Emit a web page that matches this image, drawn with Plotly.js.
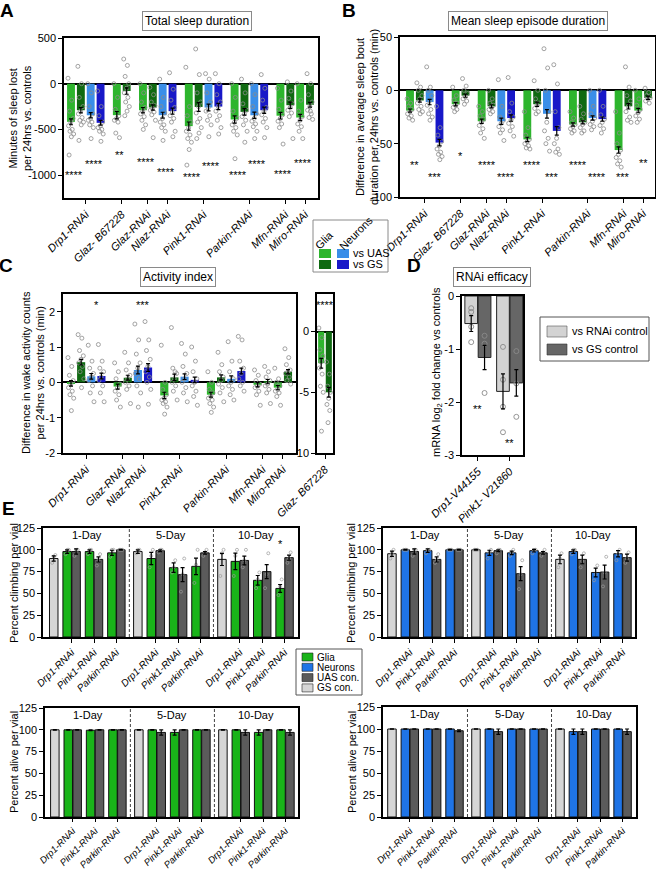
<!DOCTYPE html>
<html><head><meta charset="utf-8">
<script src="https://cdn.plot.ly/plotly-3.0.1.min.js"></script>
<style>html,body{margin:0;padding:0;background:#fff}#chart{width:656px;height:869px}</style>
</head><body><div id="chart"></div>
<script>
// ================= DATA =================
// gU = glia vs UAS, gG = glia vs GS, nU = neurons vs UAS, nG = neurons vs GS
const sleepGroups = ['Drp1-RNAi','Glaz- B67228','Glaz-RNAi','Nlaz-RNAi','Pink1-RNAi','Parkin-RNAi','Mfn-RNAi','Miro-RNAi'];
const sleepBars = [['gU','gG','nU','nG'],['gU','gG'],['gU','gG'],['nU','nG'],['gU','gG','nU','nG'],['gU','gG','nU','nG'],['gU','gG'],['gU','gG']];
const sleepJoinPrev = [false,false,false,true,false,false,false,true];

// A: total sleep (min lost per 24h)
const totalSleepMean = [[-417,-290,-345,-428],[-344,-80],[-290,-260],[-344,-300],[-464,-254,-260,-250],[-391,-308,-345,-290],[-350,-235],[-370,-230]];
const totalSleepSEM = [[32,30,28,26],[40,35],[30,28],[32,34],[45,48,36,34],[40,36,34,34],[36,34],[34,26]];
const totalSleepPts = [
 [[60,-180,-300,-380,-420,-460,-500,-520,-550,-580,-780],[190,0,-150,-250,-300,-330,-370,-400,-420,-450,-620],[0,-100,-250,-330,-380,-400,-420,-450,-480,-600],[-80,-250,-350,-420,-460,-480,-500,-520,-550,-630]],
 [[0,-150,-280,-350,-380,-400,-420,-540,-590],[270,200,80,0,-50,-100,-150,-200,-250,-300,-350]],
 [[0,-100,-200,-260,-300,-330,-360,-400,-450,-500],[-40,-120,-200,-240,-270,-290,-310,-340,-400,-590]],
 [[50,-150,-250,-320,-380,-420,-450,-480,-520,-620],[120,-60,-180,-260,-310,-350,-380,-420,-520,-580]],
 [[180,-250,-350,-420,-480,-520,-560,-600,-640,-720,-890],[380,100,-100,-200,-250,-320,-380,-420,-480,-540,-600],[110,50,-100,-200,-260,-300,-350,-400,-450,-580],[110,0,-120,-200,-250,-300,-350,-400,-480,-550]],
 [[0,-150,-300,-380,-420,-450,-480,-520,-560,-820],[50,-100,-220,-290,-330,-360,-400,-450,-520,-640],[0,-120,-250,-330,-380,-410,-440,-470,-520,-600],[100,-50,-180,-260,-300,-340,-380,-420,-480,-590]],
 [[-50,-180,-280,-340,-380,-410,-440,-480,-660],[20,-80,-160,-220,-260,-290,-320,-360,-600]],
 [[0,-180,-300,-360,-400,-440,-470,-520,-600],[110,0,-120,-200,-250,-290,-330,-370,-390,-300]]
];
const totalSleepSigGlia = ['****','**','****','','****','****','****','****'];
const totalSleepSigGliaY = [-1000,-780,-860,null,-1020,-1000,-990,-870];
const totalSleepSigNeur = ['****','','','****','****','****','',''];
const totalSleepSigNeurY = [-880,null,null,-965,-900,-880,null,null];

// B: mean sleep bout duration (min)
const boutMean = [[-19,-9.5,-11,-49],[-13,-5],[-29,-15],[-29,-26],[-46,-13,-22,-38],[-32,-30,-26,-27],[-56,-15],[-19,-7]];
const boutSEM = [[1.5,1.5,2.5,3],[1.5,1.5],[2,1.5],[3,3],[2,2,4,4],[1.5,1.5,2,2],[3,2.5],[2,1.5]];
const boutPts = [
 [[-8,-12,-15,-18,-20,-22,-24,-26,-28],[7,3,0,-5,-8,-12,-15,-18,-20,-22],[22,3,0,-5,-10,-14,-18,-22,-25,-28],[-15,-35,-42,-48,-52,-55,-58,-60,-62,-65]],
 [[3,-5,-9,-12,-14,-16,-18,-20],[11,4,0,-3,-6,-8,-10,-13]],
 [[-15,-20,-24,-27,-30,-33,-36,-40,-45],[0,-8,-12,-14,-16,-18,-20,-22]],
 [[10,-15,-25,-28,-31,-34,-37,-40,-47],[12,-12,-20,-25,-28,-31,-34,-38,-43]],
 [[-20,-35,-42,-46,-48,-50,-52,-54,-55],[9,0,-8,-12,-14,-17,-20,-22],[39,21,0,-20,-30,-38,-45,-50,-57],[24,6,-20,-35,-45,-50,-55,-58,-60]],
 [[-20,-26,-30,-32,-34,-36,-38,-40],[-15,-22,-27,-30,-32,-35,-38,-40],[0,-15,-22,-26,-29,-32,-34,-37],[0,-15,-23,-27,-30,-33,-36,-40]],
 [[-20,-40,-50,-56,-60,-63,-66,-69,-72],[22,3,-5,-10,-15,-20,-25,-28,-30]],
 [[0,-8,-14,-18,-21,-24,-27,-30],[2,-2,-5,-7,-8,-10,-12]]
];
const boutSigGlia = ['**','*','****','','****','****','***','**'];
const boutSigGliaY = [-70,-62,-70,null,-70,-70,-81,-68];
const boutSigNeur = ['***','','','****','***','****','',''];
const boutSigNeurY = [-81,null,null,-81,-81,-81,null,null];

// C: activity index
const actGroups = ['Drp1-RNAi','Glaz-RNAi','Nlaz-RNAi','Pink1-RNAi','Parkin-RNAi','Mfn-RNAi','Miro-RNAi'];
const actBars = [['gU','gG','nU','nG'],['gU','gG'],['nU','nG'],['gU','gG','nU','nG'],['gU','gG','nU','nG'],['gU','gG'],['gU','gG']];
const actJoinPrev = [false,false,true,false,false,false,true];
const actMean = [[-0.03,0.57,0.17,0.18],[-0.12,0.13],[0.35,0.42],[-0.37,0.14,0.16,0.07],[-0.35,0.14,0.1,0.32],[-0.07,0.02],[-0.15,0.3]];
const actSEM = [[0.08,0.08,0.08,0.08],[0.07,0.07],[0.11,0.11],[0.09,0.09,0.08,0.08],[0.07,0.07,0.08,0.08],[0.06,0.06],[0.06,0.06]];
const actPts = [
 [[0.7,0.45,0.2,0.05,-0.05,-0.15,-0.25,-0.35,-0.45,-0.8],[1.35,1.25,0.9,0.75,0.65,0.55,0.45,0.3,0.1,-0.15],[1.05,0.6,0.4,0.25,0.15,0.05,-0.1,-0.3,-0.55],[1.07,0.6,0.4,0.3,0.15,0.05,-0.1,-0.3,-0.55]],
 [[0.55,0.3,0.1,-0.05,-0.15,-0.25,-0.35,-0.5,-0.7],[0.85,0.55,0.35,0.2,0.1,0,-0.1,-0.2,-0.6]],
 [[1.65,1.2,0.8,0.55,0.4,0.25,0.1,-0.1,-0.3,-0.7],[1.72,1.2,0.9,0.65,0.45,0.3,0.15,0,-0.2,-0.62]],
 [[1.05,0,-0.2,-0.35,-0.45,-0.5,-0.55,-0.6,-0.7,-0.9],[1.55,0.3,0.4,0.25,0.1,0,-0.1,-0.25,-0.5],[1.1,0.8,0.45,0.25,0.1,0,-0.15,-0.3,-0.55],[1.0,0.6,0.3,0.1,0,-0.1,-0.25,-0.4,-0.65]],
 [[0.3,0,-0.2,-0.3,-0.4,-0.45,-0.5,-0.6,-0.7,-0.85],[0.85,0.5,0.3,0.15,0.05,-0.05,-0.15,-0.3,-0.55],[1.15,0.6,0.3,0.1,0,-0.1,-0.2,-0.35,-0.5],[1.3,1.2,0.6,0.4,0.25,0.1,0,-0.1,-0.25]],
 [[0.35,0.2,0.05,-0.05,-0.1,-0.15,-0.25,-0.35,-0.65],[0.45,0.3,0.15,0.05,-0.05,-0.1,-0.2,-0.3,-0.6]],
 [[0.4,0.1,0,-0.1,-0.2,-0.25,-0.3,-0.4,-0.65],[0.95,0.7,0.5,0.35,0.3,0.25,0.15,0.05,-0.05]]
];
const actSigNeur = ['*','','***','','','',''];
const actSigNeurY = [2.2,null,2.2,null,null,null,null];
// C inset: Glaz- B67228
const actInsetGroups = ['Glaz- B67228'];
const actInsetBars = [['gU','gG']];
const actInsetMean = [[-2.6,-5.0]];
const actInsetSEM = [[0.4,0.4]];
const actInsetPts = [[[0.3,-0.5,-1.5,-2,-2.5,-3,-3.5,-4.5,-5,-8.2],[-2.5,-3.5,-4.5,-5,-5.5,-6,-6.5,-7.5]]];
const actInsetSig = ['****'];
const actInsetSigY = [2.2];

// D: RNAi efficacy
const effGenes = ['Drp1-V44155','Pink1- V21860'];
const effVsRNAi = [-0.52,-1.80];
const effVsRNAiErr = [0.15,0.33];
const effVsGS = [-1.16,-1.64];
const effVsGSErr = [0.23,0.25];
const effPtsRNAi = [[-0.23,-0.30,-0.58,-0.87],[-0.96,-1.58,-2.09,-2.57]];
const effPtsGS = [[-0.75,-0.90,-1.83],[-1.04,-1.65,-2.28]];
const effSig = ['**','**'];
const effSigY = [-2.13,-2.77];

// E: climbing / survival ([day][gene])
const eDays = ['1-Day','5-Day','10-Day'];
const eGenes = ['Drp1-RNAi','Pink1-RNAi','Parkin-RNAi'];
const climbGliaGS = [90,98,89];
const climbGliaGSErr = [3,2,7];
const climbGliaGSPts = [[85,92,94],[96,100,100],[70,96,100]];
const climbGliaRNAi = [[98,98,96.5],[90,79.5,81],[86.7,65,55.7]];
const climbGliaRNAiErr = [[2,2,3],[7,5.5,9.5],[9.5,5.5,4.5]];
const climbGliaRNAiPts = [[[95,100,100],[95,100,100],[92,100,100]],[[80,93,100],[74,80,88],[62,83,100]],[[70,93,100],[56,66,74],[48,58,66]]];
const climbGliaUAS = [[98,89,100],[99,71.5,96.5],[87.8,75,91]];
const climbGliaUASErr = [[3,3,0.5],[1,8,1.5],[5,8,3]];
const climbGliaUASPts = [[[93,100,100],[82,88,95],[100,100,100]],[[97,100,100],[52,72,90],[93,97,100]],[[80,88,100],[56,72,96],[85,90,97]]];
const climbGliaSig = [['','',''],['','',''],['','','*']];

const climbNeurGS = [95.5,100,89];
const climbNeurGSErr = [3,0.5,5];
const climbNeurGSPts = [[90,96,100],[100,100,100],[80,90,96]];
const climbNeurRNAi = [[100,99,100],[96.5,96.5,99],[98,74,95.5]];
const climbNeurRNAiErr = [[0.5,2,0.5],[3,2,1.5],[2,5,3.5]];
const climbNeurRNAiPts = [[[100,100,100],[96,100,100],[100,100,100]],[[90,97,100],[93,97,100],[96,100,100]],[[95,100,100],[65,72,82],[88,95,100]]];
const climbNeurUAS = [[98,89,100],[99,72.6,96.5],[89,74.5,91]];
const climbNeurUASErr = [[3,3,0.5],[1,8,1.5],[5,8,4]];
const climbNeurUASPts = [[[93,100,100],[85,88,95],[100,100,100]],[[96,100,100],[55,72,88],[93,97,100]],[[80,87,96],[58,74,92],[85,90,97]]];

const aliveGliaGS = [100,100,100];
const aliveGliaGSErr = [0.3,0.3,0.3];
const aliveGliaRNAi = [[100,99.5,100],[100,97,100],[100,97,100]];
const aliveGliaRNAiErr = [[0.3,0.5,0.3],[0.3,3,0.3],[0.3,3,0.3]];
const aliveGliaUAS = [[100,100,100],[97,100,100],[97,100,97]];
const aliveGliaUASErr = [[0.3,0.3,0.3],[3,0.3,0.3],[3,0.3,3]];

const aliveNeurGS = [100,100,100];
const aliveNeurGSErr = [0.3,0.3,0.3];
const aliveNeurRNAi = [[100,100,100],[100,100,100],[97,100,100]];
const aliveNeurRNAiErr = [[0.3,0.3,0.3],[0.3,0.3,0.3],[3,0.3,0.3]];
const aliveNeurUAS = [[100,100,98],[97,100,100],[97,100,97]];
const aliveNeurUASErr = [[0.3,0.3,1],[3,0.3,0.3],[3,0.3,3]];

// ================= STYLE / LAYOUT HELPERS =================
const F = '"Liberation Sans", Arial, Helvetica, sans-serif';
const W = 656, H = 869;
const PX = x => x / W, PY = y => 1 - y / H;
const xd = (a, b) => [a / W, b / W];
const yd = (a, b) => [1 - b / H, 1 - a / H];
const COL = {gU:'#2db52d', gG:'#0f6a11', nU:'#3a8ee8', nG:'#1818c8'};
const E_GLIA = '#19b419', E_NEUR = '#1f74e6', E_UAS = '#5b5b5b', E_GS = '#d6d6d6';
const PT = {symbol:'circle-open', size:4, color:'#8c8c8c', line:{width:0.8}};
const jitter = i => (((i * 0.6180339887) % 1) - 0.5) * 0.6;
const BLACK = '#000000';

const traces = [];
const annotations = [];
const shapes = [];

function slotPositions(series, joinPrev, gap) {
  const out = []; let cur = 0;
  series.forEach((s, gi) => {
    if (gi > 0) cur += joinPrev[gi] ? 1 : 1 + gap;
    const arr = [cur];
    for (let k = 1; k < s.length; k++) { cur += 1; arr.push(cur); }
    out.push(arr);
  });
  return out;
}

function errTrace(xs, ys, es, xa, ya) {
  return {type:'scatter', mode:'markers', x:xs, y:ys, marker:{size:1, opacity:0},
    error_y:{type:'data', array:es, visible:true, color:BLACK, thickness:1.2, width:2},
    xaxis:xa, yaxis:ya, showlegend:false, hoverinfo:'skip'};
}

function dotPanel(series, joinPrev, gap, means, sems, pts, xa, ya) {
  const pos = slotPositions(series, joinPrev, gap);
  ['gU','gG','nU','nG'].forEach(key => {
    const xs = [], ys = [];
    series.forEach((s, gi) => s.forEach((k, bi) => { if (k === key) { xs.push(pos[gi][bi]); ys.push(means[gi][bi]); } }));
    if (xs.length) traces.push({type:'bar', x:xs, y:ys, width:0.8, marker:{color:COL[key], line:{width:0}},
      xaxis:xa, yaxis:ya, showlegend:false, hoverinfo:'skip'});
  });
  const px = [], py = [];
  series.forEach((s, gi) => s.forEach((k, bi) => pts[gi][bi].forEach((v, i) => { px.push(pos[gi][bi] + jitter(i)); py.push(v); })));
  traces.push({type:'scatter', mode:'markers', x:px, y:py, marker:PT, xaxis:xa, yaxis:ya, showlegend:false, hoverinfo:'skip', cliponaxis:false});
  const ex = [], ey = [], ee = [];
  series.forEach((s, gi) => s.forEach((k, bi) => { ex.push(pos[gi][bi]); ey.push(means[gi][bi]); ee.push(sems[gi][bi]); }));
  traces.push(errTrace(ex, ey, ee, xa, ya));
  return pos;
}

function pairCenter(series, pos, gi, keys) {
  const xs = [];
  series[gi].forEach((k, bi) => { if (keys.includes(k)) xs.push(pos[gi][bi]); });
  return xs.length ? xs.reduce((a, b) => a + b, 0) / xs.length : null;
}

function sigAnn(series, pos, texts, ys, keys, xa, ya, shift) {
  texts.forEach((t, gi) => {
    if (!t) return;
    const x = pairCenter(series, pos, gi, keys);
    annotations.push({xref:xa, yref:ya, x:x + (shift || 0), y:ys[gi], text:t, showarrow:false,
      font:{family:F, size:11, color:BLACK}, xanchor:'center', yanchor:'middle'});
  });
}

const axBase = {showline:true, linecolor:BLACK, linewidth:1.5, mirror:true, ticks:'outside', ticklen:4,
  tickwidth:1.2, tickcolor:BLACK, showgrid:false, zeroline:false, fixedrange:true, layer:'above traces',
  tickfont:{family:F, size:11, color:BLACK}};

function yAxis(dom, range, vals, anchor, zero) {
  return Object.assign({}, axBase, {domain:dom, range:range, tickvals:vals, ticktext:vals.map(v => String(v)),
    anchor:anchor, zeroline:!!zero, zerolinecolor:BLACK, zerolinewidth:1.5});
}
function xAxis(dom, range, vals, names, anchor, fs, tl) {
  return Object.assign({}, axBase, {domain:dom, range:range, tickvals:vals,
    ticktext:names.map(n => '<i>' + n + '</i>'), tickangle:-45, anchor:anchor, ticklen:tl || 4,
    tickfont:{family:F, size:fs || 11, color:BLACK}});
}

// ================= PANEL A =================
const posA = dotPanel(sleepBars, sleepJoinPrev, 0.65, totalSleepMean, totalSleepSEM, totalSleepPts, 'x', 'y');
sigAnn(sleepBars, posA, totalSleepSigGlia, totalSleepSigGliaY, ['gU','gG'], 'x', 'y', -0.2);
sigAnn(sleepBars, posA, totalSleepSigNeur, totalSleepSigNeurY, ['nU','nG'], 'x', 'y', -0.2);
const centersA = posA.map(p => (p[0] + p[p.length - 1]) / 2);

// ================= PANEL B =================
const posB = dotPanel(sleepBars, sleepJoinPrev, 0.65, boutMean, boutSEM, boutPts, 'x2', 'y2');
sigAnn(sleepBars, posB, boutSigGlia, boutSigGliaY, ['gU','gG'], 'x2', 'y2', 0);
sigAnn(sleepBars, posB, boutSigNeur, boutSigNeurY, ['nU','nG'], 'x2', 'y2', 0);

// ================= PANEL C =================
const posC = dotPanel(actBars, actJoinPrev, 0.6, actMean, actSEM, actPts, 'x3', 'y3');
sigAnn(actBars, posC, actSigNeur, actSigNeurY, ['nU','nG'], 'x3', 'y3', 0);
const centersC = posC.map(p => (p[0] + p[p.length - 1]) / 2);
const posCi = dotPanel(actInsetBars, [false], 0.6, actInsetMean, actInsetSEM, actInsetPts, 'x4', 'y4');
sigAnn(actInsetBars, posCi, actInsetSig, actInsetSigY, ['gU','gG'], 'x4', 'y4', 0);

// ================= PANEL D =================
const dOff = 0.21;
const dx0 = effGenes.map((g, i) => i - dOff), dx1 = effGenes.map((g, i) => i + dOff);
traces.push({type:'bar', x:dx0, y:effVsRNAi, width:0.4, marker:{color:'#d3d3d3', line:{color:'#222', width:1}}, xaxis:'x5', yaxis:'y5', showlegend:false, hoverinfo:'skip'});
traces.push({type:'bar', x:dx1, y:effVsGS, width:0.4, marker:{color:'#666666', line:{color:'#222', width:1}}, xaxis:'x5', yaxis:'y5', showlegend:false, hoverinfo:'skip'});
(function(){
  const px = [], py = [];
  effPtsRNAi.forEach((arr, i) => arr.forEach(v => { px.push(dx0[i]); py.push(v); }));
  effPtsGS.forEach((arr, i) => arr.forEach(v => { px.push(dx1[i]); py.push(v); }));
  traces.push({type:'scatter', mode:'markers', x:px, y:py, marker:{symbol:'circle-open', size:5, color:'#8a8a8a', line:{width:0.9}}, xaxis:'x5', yaxis:'y5', showlegend:false, hoverinfo:'skip'});
})();
traces.push(errTrace(dx0.concat(dx1), effVsRNAi.concat(effVsGS), effVsRNAiErr.concat(effVsGSErr), 'x5', 'y5'));
effSig.forEach((t, i) => annotations.push({xref:'x5', yref:'y5', x:i, y:effSigY[i], text:t, showarrow:false, font:{family:F, size:11, color:BLACK}, xanchor:'center', yanchor:'middle'}));

// ================= PANEL E =================
const P = 9.4;
const gsX = d => d * P;
const rnaiX = (d, g) => d * P + 1.5 + 2.5 * g;
const uasX = (d, g) => d * P + 2.5 + 2.5 * g;
const eCenters = [], eLabels = [];
eDays.forEach((dname, d) => eGenes.forEach((g, gi) => { eCenters.push(d * P + 2 + 2.5 * gi); eLabels.push(g); }));

function ePanel(gs, gsErr, gsPts, rn, rnErr, rnPts, ua, uaErr, uaPts, color, xa, ya, yLabel) {
  const bx = (xs, ys, c) => traces.push({type:'bar', x:xs, y:ys, width:0.95, marker:{color:c, line:{color:'#111', width:1}}, xaxis:xa, yaxis:ya, showlegend:false, hoverinfo:'skip'});
  const gx = eDays.map((_, d) => gsX(d));
  const rx = [], ry = [], re = [], ux = [], uy = [], ue = [];
  eDays.forEach((_, d) => eGenes.forEach((_, g) => {
    rx.push(rnaiX(d, g)); ry.push(rn[d][g]); re.push(rnErr[d][g]);
    ux.push(uasX(d, g)); uy.push(ua[d][g]); ue.push(uaErr[d][g]);
  }));
  bx(gx, gs, E_GS); bx(rx, ry, color); bx(ux, uy, E_UAS);
  if (gsPts) {
    const px = [], py = [];
    eDays.forEach((_, d) => {
      gsPts[d].forEach((v, i) => { px.push(gsX(d) + (i - 1) * 0.18); py.push(v); });
      eGenes.forEach((_, g) => {
        rnPts[d][g].forEach((v, i) => { px.push(rnaiX(d, g) + (i - 1) * 0.18); py.push(v); });
        uaPts[d][g].forEach((v, i) => { px.push(uasX(d, g) + (i - 1) * 0.18); py.push(v); });
      });
    });
    traces.push({type:'scatter', mode:'markers', x:px, y:py, marker:{symbol:'circle-open', size:3, color:'#9a9a9a', line:{width:0.7}}, xaxis:xa, yaxis:ya, showlegend:false, hoverinfo:'skip'});
  }
  traces.push(errTrace(gx.concat(rx, ux), gs.concat(ry, uy), gsErr.concat(re, ue), xa, ya));
  for (let d = 0; d < eDays.length - 1; d++) {
    const xv = (uasX(d, 2) + gsX(d + 1)) / 2;
    shapes.push({type:'line', xref:xa, yref:ya, x0:xv, x1:xv, y0:0, y1:125, line:{color:'#444', width:1, dash:'3px,2px'}});
  }
  eDays.forEach((dn, d) => annotations.push({xref:xa, yref:ya, x:d * P + 3.75, y:yLabel, text:dn, showarrow:false, font:{family:F, size:11, color:BLACK}, xanchor:'center', yanchor:'middle'}));
}

ePanel(climbGliaGS, climbGliaGSErr, climbGliaGSPts, climbGliaRNAi, climbGliaRNAiErr, climbGliaRNAiPts, climbGliaUAS, climbGliaUASErr, climbGliaUASPts, E_GLIA, 'x6', 'y6', 117.5);
climbGliaSig.forEach((row, d) => row.forEach((t, g) => { if (t) annotations.push({xref:'x6', yref:'y6', x:rnaiX(d, g), y:107, text:t, showarrow:false, font:{family:F, size:11, color:BLACK}, xanchor:'center', yanchor:'middle'}); }));
ePanel(climbNeurGS, climbNeurGSErr, climbNeurGSPts, climbNeurRNAi, climbNeurRNAiErr, climbNeurRNAiPts, climbNeurUAS, climbNeurUASErr, climbNeurUASPts, E_NEUR, 'x7', 'y7', 117.5);
ePanel(aliveGliaGS, aliveGliaGSErr, null, aliveGliaRNAi, aliveGliaRNAiErr, null, aliveGliaUAS, aliveGliaUASErr, null, E_GLIA, 'x8', 'y8', 117);
ePanel(aliveNeurGS, aliveNeurGSErr, null, aliveNeurRNAi, aliveNeurRNAiErr, null, aliveNeurUAS, aliveNeurUASErr, null, E_NEUR, 'x9', 'y9', 117);

// ================= TEXT: titles, letters, y titles =================
function paperText(x, y, text, opts) {
  annotations.push(Object.assign({xref:'paper', yref:'paper', x:PX(x), y:PY(y), text:text, showarrow:false,
    font:{family:F, size:11, color:BLACK}, xanchor:'center', yanchor:'middle'}, opts || {}));
}
const boxTitle = {font:{family:F, size:12, color:BLACK}, bordercolor:'#8a8a8a', borderwidth:1, borderpad:2, bgcolor:'#fff'};
paperText(197, 21, 'Total sleep duration', boxTitle);
paperText(528, 21, 'Mean sleep episode duration', boxTitle);
paperText(178, 277, 'Activity index', boxTitle);
paperText(492, 277, 'RNAi efficacy', boxTitle);

const letter = {font:{family:F, size:19, color:BLACK}};
paperText(7, 11, '<b>A</b>', letter);
paperText(349, 11, '<b>B</b>', letter);
paperText(6, 265, '<b>C</b>', letter);
paperText(414, 265, '<b>D</b>', letter);
paperText(8, 508, '<b>E</b>', letter);

const yt = {textangle:-90};
paperText(20, 118, 'Minutes of sleep lost<br>per 24hrs vs. controls', yt);
paperText(367, 117, 'Difference in average sleep bout<br>duration per 24hrs vs. controls (min)', yt);
paperText(33, 373, 'Difference in wake activity counts<br>per 24hrs vs. controls (min)', yt);
paperText(437, 372, 'mRNA log<sub>2</sub> fold change vs controls', yt);
paperText(14, 583, 'Percent climbing per vial', yt);
paperText(351, 583, 'Percent climbing per vial', yt);
paperText(14, 762, 'Percent alive per vial', yt);
paperText(352, 762, 'Percent alive per vial', yt);

// ================= LEGENDS (A/B, D, E) =================
function rect(x0, y0, x1, y1, fill, line, lw) {
  shapes.push({type:'rect', xref:'paper', yref:'paper', x0:PX(x0), x1:PX(x1), y0:PY(y1), y1:PY(y0),
    fillcolor:fill, line:{color:line || fill, width:lw === undefined ? 0 : lw}});
}
rect(313, 220, 388, 272, 'rgba(0,0,0,0)', '#8a8a8a', 1);
rect(319, 249, 331, 258, COL.gU); rect(319, 260, 331, 269, COL.gG);
rect(337, 249, 349, 258, COL.nU); rect(337, 260, 349, 269, COL.nG);
paperText(324, 240, 'Glia', {textangle:-45});
paperText(356, 233, 'Neurons', {textangle:-45});
paperText(351, 253, 'vs UAS', {xanchor:'left'});
paperText(351, 264, 'vs GS', {xanchor:'left'});
rect(540, 317, 649, 361, 'rgba(0,0,0,0)', '#555', 1);
rect(547, 326, 567, 337, '#d3d3d3', '#555', 0.6);
rect(547, 344, 567, 355, '#666666', '#333', 0.6);
paperText(570, 331, 'vs RNAi control', {xanchor:'left'});
paperText(570, 349, 'vs GS control', {xanchor:'left'});
rect(296, 649, 362, 695, '#fff', '#555', 1);
const eLeg = [[E_GLIA, 'Glia'], [E_NEUR, 'Neurons'], [E_UAS, 'UAS con.'], [E_GS, 'GS con.']];
eLeg.forEach((it, i) => {
  const y0 = 653 + i * 10.3;
  rect(302, y0, 313, y0 + 8, it[0], '#222', 0.6);
  paperText(315, y0 + 4, it[1], {xanchor:'left', font:{family:F, size:10, color:BLACK}});
});

// ================= AXES =================
const eTicks = [0, 25, 50, 75, 100, 125];
const layout = {
  width:W, height:H, margin:{l:0, r:0, t:0, b:0}, paper_bgcolor:'#fff', plot_bgcolor:'rgba(0,0,0,0)',
  barmode:'overlay', showlegend:false, font:{family:F, size:11, color:BLACK},
  annotations:annotations, shapes:shapes,
  xaxis: xAxis(xd(64, 318), [-0.71, 25.06], centersA, sleepGroups, 'y'),
  yaxis: yAxis(yd(38, 198), [-1250, 500], [500, 0, -500, -1000], 'x', true),
  xaxis2: xAxis(xd(400, 655), [-1.02, 24.96], posB.map(p => (p[0] + p[p.length - 1]) / 2), sleepGroups, 'y2'),
  yaxis2: yAxis(yd(37, 197), [-100, 50], [50, 0, -50, -100], 'x2', true),
  xaxis3: xAxis(xd(63, 296), [-0.79, 22.19], centersC, actGroups, 'y3'),
  yaxis3: yAxis(yd(294, 453), [-2, 2.5], [2, 1, 0, -1, -2], 'x3', true),
  xaxis4: xAxis(xd(317, 333), [-0.55, 1.55], posCi.map(p => (p[0] + p[p.length - 1]) / 2), actInsetGroups, 'y4'),
  yaxis4: yAxis(yd(294, 453), [-10, 3.1], [0, -5, -10], 'x4', true),
  xaxis5: xAxis(xd(462, 523), [-0.5, 1.42], [0, 1], effGenes, 'y5'),
  yaxis5: yAxis(yd(296, 455), [-3, 0], [0, -1, -2, -3], 'x5', false),
  xaxis6: xAxis(xd(43, 298), [-1.2, 27.3], eCenters, eLabels, 'y6', 10),
  yaxis6: yAxis(yd(528, 637), [0, 125], eTicks, 'x6', false),
  xaxis7: xAxis(xd(383, 635), [-1.0, 27.2], eCenters, eLabels, 'y7', 10),
  yaxis7: yAxis(yd(528, 637), [0, 125], eTicks, 'x7', false),
  xaxis8: xAxis(xd(45, 298), [-1.1, 27.2], eCenters, eLabels, 'y8', 9.5, 3),
  yaxis8: yAxis(yd(708, 817), [0, 125], eTicks, 'x8', false),
  xaxis9: xAxis(xd(383, 636), [-1.0, 27.3], eCenters, eLabels, 'y9', 9.5, 3),
  yaxis9: yAxis(yd(707, 817), [0, 125], eTicks, 'x9', false)
};

Plotly.newPlot('chart', traces, layout, {displayModeBar:false, responsive:false});
</script>
</body></html>
